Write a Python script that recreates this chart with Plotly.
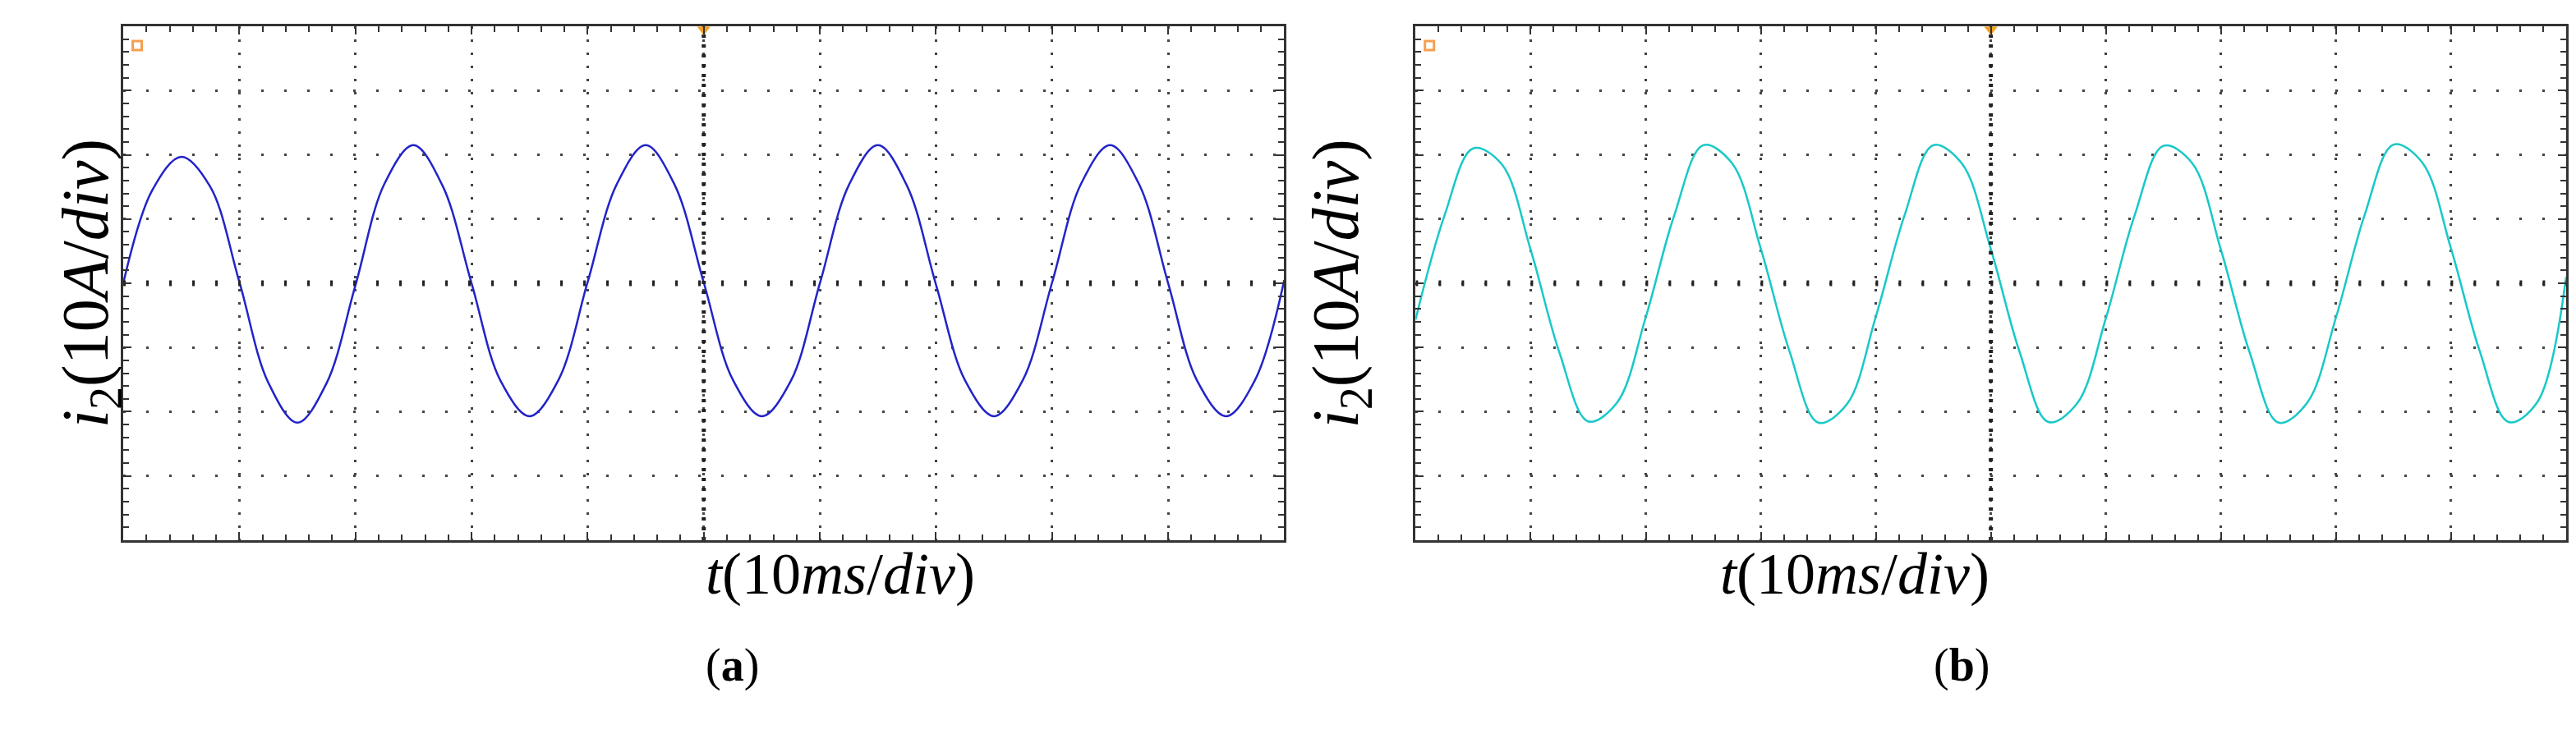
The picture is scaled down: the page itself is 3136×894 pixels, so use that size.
import plotly.graph_objects as go

# time in divisions (10 ms/div), current in divisions (10 A/div), read every 0.25 div
t_div = [i * 0.25 for i in range(41)]

i2_a = [0.0, 1.45, 1.97, 1.50, 0.02, -1.55, -2.17, -1.56,
        -0.03, 1.55, 2.15, 1.52, 0.00, -1.52, -2.07, -1.50,
        0.02, 1.54, 2.15, 1.53, 0.01, -1.50, -2.07, -1.52,
        0.00, 1.53, 2.15, 1.52, -0.02, -1.51, -2.07, -1.50,
        0.01, 1.55, 2.15, 1.54, 0.00, -1.52, -2.07, -1.50, 0.05]

i2_b = [-0.56, 1.05, 2.10, 1.85, 0.52, -1.08, -2.15, -1.86,
        -0.53, 1.07, 2.15, 1.87, 0.54, -1.06, -2.17, -1.88,
        -0.52, 1.06, 2.15, 1.86, 0.53, -1.07, -2.16, -1.87,
        -0.54, 1.06, 2.14, 1.87, 0.52, -1.08, -2.17, -1.86,
        -0.53, 1.07, 2.16, 1.88, 0.54, -1.06, -2.16, -1.85, 0.10]

panels = [("a", i2_a, "#2323c8", "x", "y"), ("b", i2_b, "#19c8c8", "x2", "y2")]

fig = go.Figure()
serif = "Liberation Serif, Times New Roman, serif"

for name, vals, color, xa, ya in panels:
    fig.add_trace(go.Scatter(x=t_div, y=vals, mode="lines", line=dict(color=color, width=2.5, shape="spline", smoothing=1.0),
                             xaxis=xa, yaxis=ya, showlegend=False))
    # center graticule lines
    fig.add_trace(go.Scatter(x=[0, 10], y=[0, 0], mode="lines", line=dict(color="#222", width=7, dash="3px,25px"),
                             xaxis=xa, yaxis=ya, showlegend=False, hoverinfo="skip"))
    fig.add_trace(go.Scatter(x=[5, 5], y=[-4, 4], mode="lines", line=dict(color="#222", width=5, dash="4px,8px"),
                             xaxis=xa, yaxis=ya, showlegend=False, hoverinfo="skip"))
    # trigger markers
    fig.add_trace(go.Scatter(x=[5], y=[3.95], mode="markers", marker=dict(symbol="triangle-down", color="#f5a020", size=14),
                             xaxis=xa, yaxis=ya, showlegend=False, cliponaxis=False))
    fig.add_trace(go.Scatter(x=[0.12], y=[3.7], mode="markers", marker=dict(symbol="square-open", color="#f5a050", size=11, line=dict(width=3)),
                             xaxis=xa, yaxis=ya, showlegend=False, cliponaxis=False))

axis_common = dict(showline=True, linecolor="#333", linewidth=3, mirror="allticks",
                   showgrid=True, gridcolor="#444", gridwidth=3,
                   ticks="inside", ticklen=10, tickwidth=2, tickcolor="#333",
                   showticklabels=False, zeroline=False, dtick=1,
                   minor=dict(ticks="inside", ticklen=7, tickwidth=2, tickcolor="#333", dtick=0.2, showgrid=False))

fig.update_layout(
    width=3136, height=894, margin=dict(l=0, r=0, t=0, b=0),
    paper_bgcolor="white", plot_bgcolor="white",
    xaxis=dict(axis_common, domain=[0.0453, 0.496], range=[0, 10], tick0=0, griddash="3px,13px"),
    yaxis=dict(axis_common, domain=[0.273, 0.973], range=[-4, 4], tick0=0, griddash="3px,25px"),
    xaxis2=dict(axis_common, domain=[0.547, 0.9936], range=[0, 10], tick0=0, anchor="y2", griddash="3px,13px"),
    yaxis2=dict(axis_common, domain=[0.273, 0.973], range=[-4, 4], tick0=0, anchor="x2", griddash="3px,25px"),
)

ylab = "<i>i</i><sub>2</sub>(10<i>A</i>/<i>div</i>)"
xlab = "<i>t</i>(10<i>ms</i>/<i>div</i>)"
for cx, lx, tag in [(0.2707, 0.016, "(<b>a</b>)"), (0.7703, 0.518, "(<b>b</b>)")]:
    fig.add_annotation(text=ylab, xref="paper", yref="paper", x=lx, y=0.623, textangle=-90,
                       showarrow=False, font=dict(family=serif, size=80, color="black"))
    fig.add_annotation(text=xlab, xref="paper", yref="paper", x=cx, y=0.18,
                       showarrow=False, font=dict(family=serif, size=72, color="black"))
    fig.add_annotation(text=tag, xref="paper", yref="paper", x=cx, y=0.065,
                       showarrow=False, font=dict(family=serif, size=56, color="black"))

fig.write_html("out.html")
